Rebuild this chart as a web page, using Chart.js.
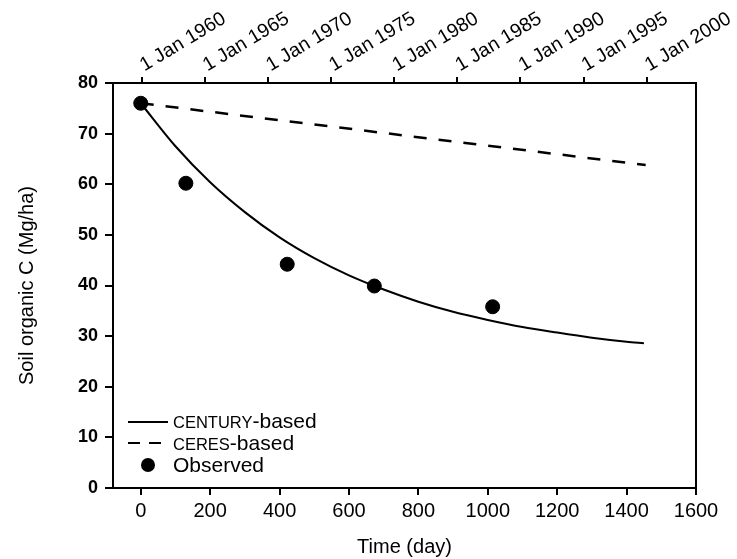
<!DOCTYPE html>
<html>
<head>
<meta charset="utf-8">
<script src="https://cdn.jsdelivr.net/npm/chart.js@4"></script>
<style>
  html, body { margin: 0; padding: 0; background: #fff; }
  #wrap { width: 737px; height: 559px; }
</style>
</head>
<body>
<div id="wrap"><canvas id="socChart" width="737" height="559"></canvas></div>
<script>
// Axis ticks
const dayTicks = [0, 200, 400, 600, 800, 1000, 1200, 1400, 1600];
const socTicks = [0, 10, 20, 30, 40, 50, 60, 70, 80];
const yearTicks = [1960, 1965, 1970, 1975, 1980, 1985, 1990, 1995, 2000];

// CENTURY-based simulation
const centuryDays = [0, 100, 200, 300, 400, 500, 600, 700, 800, 900, 1000, 1100, 1200, 1300, 1400, 1450];
const centuryC = [76, 67.5, 60.4, 54.5, 49.5, 45.4, 42.0, 39.2, 36.8, 34.8, 33.2, 31.8, 30.7, 29.7, 28.9, 28.6];

// CERES-based simulation
const ceresDays = [0, 1455];
const ceresC = [76, 63.8];

// Observed
const obsDays = [0, 130, 422, 673, 1014];
const obsC = [76, 60.2, 44.2, 39.9, 35.8];

const toXY = (xs, ys) => xs.map((x, i) => ({ x, y: ys[i] }));
const fontFamily = "'Liberation Sans', Arial, sans-serif";
const black = '#000';

// Legend drawn inside the plot area, lower left
const insideLegend = {
    id: 'insideLegend',
    afterDatasetsDraw(chart) {
        const ctx = chart.ctx;
        const left = chart.chartArea.left;
        const textX = left + 60;
        ctx.save();
        ctx.strokeStyle = black;
        ctx.fillStyle = black;
        ctx.lineWidth = 2;
        ctx.textBaseline = 'alphabetic';

        // CENTURY-based
        ctx.beginPath();
        ctx.moveTo(left + 15, 422);
        ctx.lineTo(left + 55, 422);
        ctx.stroke();
        ctx.font = '16.5px ' + fontFamily;
        ctx.fillText('CENTURY', textX, 428);
        let w = ctx.measureText('CENTURY').width;
        ctx.font = '21px ' + fontFamily;
        ctx.fillText('-based', textX + w, 428);

        // CERES-based
        ctx.setLineDash([12, 9]);
        ctx.beginPath();
        ctx.moveTo(left + 15, 443);
        ctx.lineTo(left + 55, 443);
        ctx.stroke();
        ctx.setLineDash([]);
        ctx.font = '16.5px ' + fontFamily;
        ctx.fillText('CERES', textX, 450);
        w = ctx.measureText('CERES').width;
        ctx.font = '21px ' + fontFamily;
        ctx.fillText('-based', textX + w, 450);

        // Observed
        ctx.beginPath();
        ctx.arc(left + 35, 465, 7, 0, Math.PI * 2);
        ctx.fill();
        ctx.font = '21px ' + fontFamily;
        ctx.fillText('Observed', textX, 472);
        ctx.restore();
    }
};

const tickGrid = (len) => ({
    drawOnChartArea: false,
    drawTicks: true,
    tickLength: len,
    color: black,
    lineWidth: 2
});

new Chart(document.getElementById('socChart').getContext('2d'), {
    type: 'line',
    data: {
        datasets: [
            {
                label: 'CENTURY-based',
                data: toXY(centuryDays, centuryC),
                borderColor: black,
                borderWidth: 2,
                pointRadius: 0,
                cubicInterpolationMode: 'monotone',
                xAxisID: 'x',
                yAxisID: 'y'
            },
            {
                label: 'CERES-based',
                data: toXY(ceresDays, ceresC),
                borderColor: black,
                borderWidth: 2.5,
                borderDash: [13, 12],
                pointRadius: 0,
                xAxisID: 'x',
                yAxisID: 'y'
            },
            {
                label: 'Observed',
                data: toXY(obsDays, obsC),
                showLine: false,
                pointRadius: 7,
                pointBackgroundColor: black,
                pointBorderColor: black,
                xAxisID: 'x',
                yAxisID: 'y'
            }
        ]
    },
    options: {
        responsive: false,
        animation: false,
        layout: { padding: { top: 0, right: 41, bottom: 0, left: 0 } },
        plugins: {
            legend: { display: false },
            tooltip: { enabled: false }
        },
        scales: {
            x: {
                type: 'linear',
                position: 'bottom',
                min: -80,
                max: 1600,
                afterBuildTicks: s => { s.ticks = dayTicks.map(v => ({ value: v })); },
                afterFit: s => { s.height = 71; },
                grid: tickGrid(7),
                border: { color: black, width: 2 },
                ticks: {
                    color: black,
                    font: { family: fontFamily, size: 20 },
                    padding: 4,
                    maxRotation: 0,
                    autoSkip: false,
                    callback: v => String(v)
                },
                title: { display: true, text: 'Time (day)', color: black, font: { family: fontFamily, size: 20 }, padding: { top: 0, bottom: 0 } }
            },
            xTop: {
                type: 'linear',
                position: 'top',
                min: 1957.73,
                max: 2003.9,
                afterBuildTicks: s => { s.ticks = yearTicks.map(v => ({ value: v })); },
                afterFit: s => { s.height = 83; },
                grid: tickGrid(6),
                border: { color: black, width: 2 },
                ticks: {
                    color: black,
                    font: { family: fontFamily, size: 19.5 },
                    padding: 0,
                    labelOffset: 12,
                    minRotation: 31,
                    maxRotation: 31,
                    autoSkip: false,
                    callback: v => '1 Jan ' + v
                }
            },
            y: {
                type: 'linear',
                position: 'left',
                min: 0,
                max: 80,
                afterBuildTicks: s => { s.ticks = socTicks.map(v => ({ value: v })); },
                afterFit: s => { s.width = 113; },
                grid: tickGrid(8),
                border: { color: black, width: 2 },
                ticks: { color: black, font: { family: fontFamily, size: 18, weight: 'bold' }, padding: 7 },
                title: { display: true, text: 'Soil organic C (Mg/ha)', color: black, font: { family: fontFamily, size: 20 }, padding: { top: 15, bottom: 0 } }
            },
            yRight: {
                type: 'linear',
                position: 'right',
                min: 0,
                max: 80,
                afterFit: s => { s.width = 0; },
                grid: { display: false, drawTicks: false },
                border: { display: true, color: black, width: 2 },
                ticks: { display: false }
            }
        }
    },
    plugins: [insideLegend]
});
</script>
</body>
</html>
